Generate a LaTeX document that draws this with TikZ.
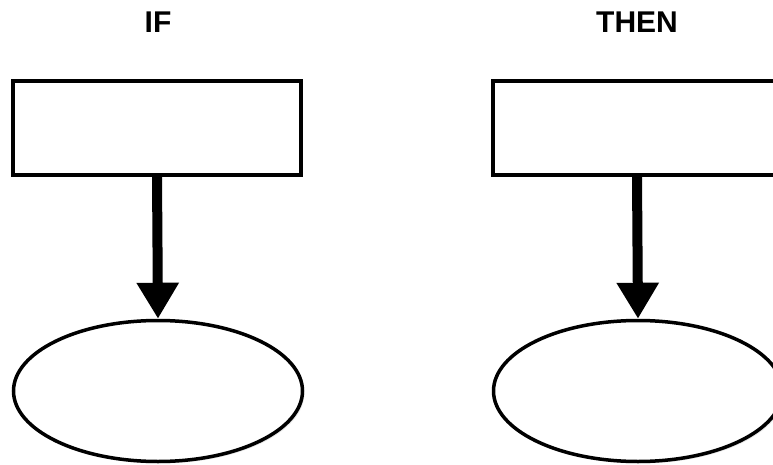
\documentclass[tikz,border=0pt]{standalone}
\usepackage{fontspec}
\setmainfont{Liberation Sans}
\usetikzlibrary{arrows.meta,shapes.geometric,shadows}

\begin{document}
\begin{tikzpicture}[x=1pt,y=-1pt,
    condbox/.style={draw, line width=3.5pt, fill=white, minimum width=288pt, minimum height=94pt,
      drop shadow={shadow xshift=2pt, shadow yshift=-2pt, opacity=0.2}},
    condoval/.style={ellipse, draw, line width=3.5pt, fill=white, minimum width=289pt, minimum height=141pt,
      drop shadow={shadow xshift=2pt, shadow yshift=-2pt, opacity=0.2}},
    heading/.style={font=\bfseries\fontsize{30}{34}\selectfont},
    fatarrow/.style={line width=10pt, -{Triangle[length=36pt,width=40pt]}}]
              \useasboundingbox (0,0) rectangle (773,465);
              \clip (0,0) rectangle (773,465);
              \node[heading] (iftitle) at (158,22) {IF};
              \node[heading] (thentitle) at (637,22) {THEN};
              \node[condbox] (ifbox) at (157,128) {};
              \node[condbox] (thenbox) at (637,128) {};
              \node[condoval] (ifoval) at (158,391) {};
              \node[condoval] (thenoval) at (638,391) {};
              \draw[fatarrow] (ifbox.south) -- (ifoval.north);
              \draw[fatarrow] (thenbox.south) -- (thenoval.north);
            \end{tikzpicture}
\end{document}
